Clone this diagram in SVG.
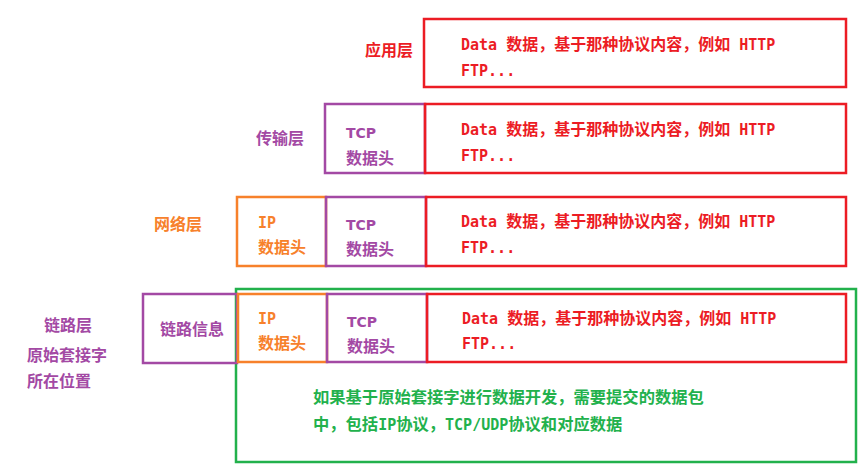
<svg xmlns="http://www.w3.org/2000/svg" width="865" height="471" viewBox="0 0 865 471">
<style>
rect{fill:none;stroke-width:2.5}
.r{stroke:#ec1c24}.p{stroke:#a349a4}.o{stroke:#f7812b}.g{stroke:#22b14c}
text{font-weight:bold}
.cn{font-family:"Noto Sans CJK SC",sans-serif;font-size:16px}
.mono{font-family:"DejaVu Sans Mono","Noto Sans CJK SC",monospace;font-size:15px}
.sans{font-family:"DejaVu Sans","Noto Sans CJK SC",sans-serif;font-size:14px}
.gt{font-size:16.3px}
.tr{fill:#ec1c24}.tp{fill:#a349a4}.to{fill:#f7812b}.tg{fill:#22b14c}
</style>
<g id="labels">
<text class="cn tr" x="365" y="56">应用层</text>
<text class="cn tp" x="256" y="144">传输层</text>
<text class="cn to" x="154" y="230">网络层</text>
<text class="cn tp" x="44" y="331">链路层</text>
<text class="cn tp" x="27" y="361">原始套接字</text>
<text class="cn tp" x="27" y="387">所在位置</text>
</g>
<g id="app">
<rect class="r" x="424" y="19" width="422" height="68"/>
<text class="mono tr" x="461" y="50">Data <tspan class="cn">数据，基于那种协议内容，例如</tspan> HTTP</text>
<text class="mono tr" x="461" y="76">FTP...</text>
</g>
<g id="transport">
<rect class="p" x="325" y="104" width="100" height="69"/>
<text class="sans tp" x="346" y="138">TCP</text>
<text class="cn tp" x="346" y="164">数据头</text>
<rect class="r" x="425" y="104" width="421" height="69"/>
<text class="mono tr" x="461" y="135">Data <tspan class="cn">数据，基于那种协议内容，例如</tspan> HTTP</text>
<text class="mono tr" x="461" y="161">FTP...</text>
</g>
<g id="network">
<rect class="o" x="237" y="197" width="89" height="69"/>
<text class="mono to" x="258" y="228">IP</text>
<text class="cn to" x="258" y="253">数据头</text>
<rect class="p" x="326" y="197" width="100" height="69"/>
<text class="sans tp" x="346" y="230">TCP</text>
<text class="cn tp" x="346" y="255">数据头</text>
<rect class="r" x="426" y="197" width="420" height="69"/>
<text class="mono tr" x="461" y="227">Data <tspan class="cn">数据，基于那种协议内容，例如</tspan> HTTP</text>
<text class="mono tr" x="461" y="253">FTP...</text>
</g>
<g id="link">
<rect class="g" x="236" y="289" width="620" height="173"/>
<rect class="p" x="143" y="294" width="94" height="69"/>
<text class="cn tp" x="160" y="335">链路信息</text>
<rect class="o" x="238" y="294" width="89" height="68"/>
<text class="mono to" x="258" y="324">IP</text>
<text class="cn to" x="258" y="349">数据头</text>
<rect class="p" x="327" y="294" width="100" height="68"/>
<text class="sans tp" x="347" y="327">TCP</text>
<text class="cn tp" x="347" y="352">数据头</text>
<rect class="r" x="427" y="294" width="419" height="68"/>
<text class="mono tr" x="462" y="324">Data <tspan class="cn">数据，基于那种协议内容，例如</tspan> HTTP</text>
<text class="mono tr" x="462" y="349">FTP...</text>
<text class="cn tg gt" x="313" y="403">如果基于原始套接字进行数据开发，需要提交的数据包</text>
<text class="cn tg gt" x="313" y="430">中，包括<tspan class="mono">IP</tspan>协议，<tspan class="mono">TCP/UDP</tspan>协议和对应数据</text>
</g>
</svg>
